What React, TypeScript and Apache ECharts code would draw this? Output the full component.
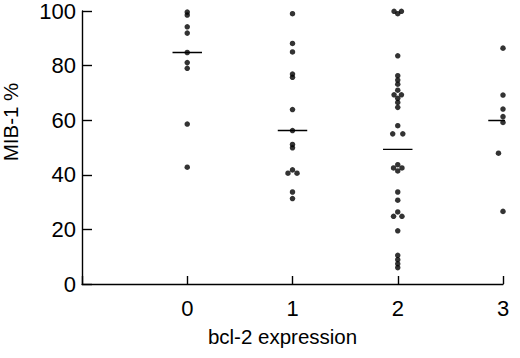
import React, { useEffect, useRef } from "react";
import * as echarts from "echarts";

const categories = [0, 1, 2, 3];
const xTickLabels = ["0", "1", "2", "3"];
const yTicks = [0, 20, 40, 60, 80, 100];

// MIB-1 % values per bcl-2 expression group, with small horizontal offsets for side-by-side dots
const group0Values = [99.6, 98.5, 94.2, 91.9, 84.8, 81.1, 79.0, 58.6, 42.8];
const group0Offsets = [0, 0, 0, 0, 0, 0, 0, 0, 0];

const group1Values = [99.0, 88.1, 85.0, 76.9, 75.7, 63.9, 56.2, 51.1, 49.9, 41.8, 40.6, 40.6, 33.7, 31.3];
const group1Offsets = [0, 0, 0, 0, 0, 0, 0, 0, 0, 0, -0.043, 0.043, 0, 0];

const group2Values = [
  99.9, 99.9, 99.0, 83.6, 76.3, 74.7, 73.2, 71.0, 69.3, 69.3, 68.0, 66.5, 64.7, 58.0, 55.0, 55.0,
  43.7, 42.5, 42.5, 41.4, 33.7, 30.7, 26.4, 24.8, 24.8, 19.5, 10.5, 8.9, 7.4, 6.0,
];
const group2Offsets = [
  -0.035, 0.035, 0, 0, 0, 0, 0, 0, -0.035, 0.035, 0, 0, 0, 0, -0.048, 0.048,
  0, -0.04, 0.04, 0, 0, 0, 0, -0.04, 0.04, 0, 0, 0, 0, 0,
];

const group3Values = [86.4, 69.2, 64.1, 61.3, 59.2, 47.9, 47.9, 26.6];
const group3Offsets = [0, 0, 0, 0, 0, -0.043, 0.043, 0];

const medians = [84.8, 56.2, 49.3, 59.9];

const groupValues = [group0Values, group1Values, group2Values, group3Values];
const groupOffsets = [group0Offsets, group1Offsets, group2Offsets, group3Offsets];

export default function App() {
  const ref = useRef<HTMLDivElement>(null);

  useEffect(() => {
    document.body.style.margin = "0";
    if (!ref.current) return;
    const chart = echarts.init(ref.current, undefined, { renderer: "svg" });

    const points: number[][] = [];
    categories.forEach((c, gi) => {
      groupValues[gi].forEach((v, i) => {
        points.push([c + groupOffsets[gi][i], v]);
      });
    });

    const medianSeries = categories.map((c, gi) => ({
      type: "line",
      data: [
        [c - 0.14, medians[gi]],
        [c + 0.14, medians[gi]],
      ],
      symbol: "none",
      silent: true,
      lineStyle: { color: "#000", width: 1.4 },
      z: 3,
    }));

    const font = "'Liberation Sans', Arial, Helvetica, sans-serif";

    chart.setOption({
      animation: false,
      backgroundColor: "#fff",
      grid: { left: 82, right: 17, top: 10, bottom: 74, containLabel: false },
      xAxis: {
        type: "value",
        min: -1,
        max: 3,
        interval: 1,
        splitLine: { show: false },
        axisLine: { show: true, onZero: false, lineStyle: { color: "#000", width: 1.4 } },
        axisTick: { show: true, inside: true, length: 8, lineStyle: { color: "#000", width: 1.4 } },
        axisLabel: {
          color: "#000",
          fontSize: 22,
          fontFamily: font,
          margin: 13,
          formatter: (v: number) => (v >= 0 && v < xTickLabels.length ? xTickLabels[v] : ""),
        },
        name: "bcl-2 expression",
        nameLocation: "middle",
        nameGap: 42,
        nameTextStyle: { color: "#000", fontSize: 20.5, fontFamily: font, padding: [0, 20, 0, 0] },
      },
      yAxis: {
        type: "value",
        min: yTicks[0],
        max: yTicks[yTicks.length - 1],
        interval: 20,
        splitLine: { show: false },
        axisLine: { show: true, onZero: false, lineStyle: { color: "#000", width: 1.4 } },
        axisTick: { show: true, inside: true, length: 10, lineStyle: { color: "#000", width: 1.4 } },
        axisLabel: { color: "#000", fontSize: 22, fontFamily: font, margin: 6 },
      },
      graphic: [
        {
          type: "text",
          x: 10,
          y: 122,
          rotation: Math.PI / 2,
          style: {
            text: "MIB-1 %",
            fill: "#000",
            fontSize: 20.5,
            fontFamily: font,
            align: "center",
            verticalAlign: "middle",
          },
        },
      ],
      series: [
        {
          type: "scatter",
          data: points,
          symbol: "circle",
          symbolSize: 5.5,
          itemStyle: { color: "#000" },
          z: 4,
        },
        ...medianSeries,
      ],
    });

    return () => chart.dispose();
  }, []);

  return <div ref={ref} style={{ width: 520, height: 358 }} />;
}
